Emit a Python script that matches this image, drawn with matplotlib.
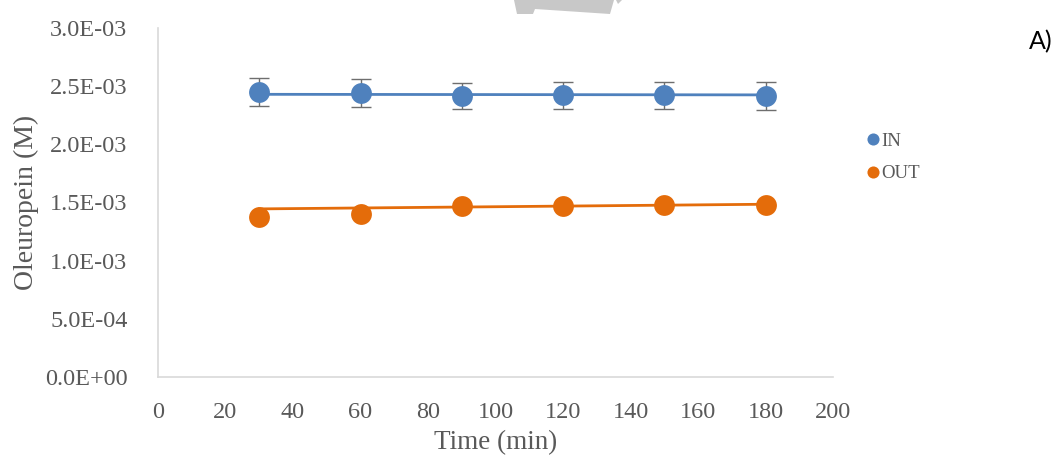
import numpy as np
import matplotlib.pyplot as plt
from matplotlib.patches import Polygon

plt.rcParams['font.family'] = ['Liberation Serif', 'DejaVu Serif']

# oleuropein concentration over time, inlet vs outlet
time = [30, 60, 90, 120, 150, 180]
c_in = [2.45e-3, 2.44e-3, 2.415e-3, 2.42e-3, 2.42e-3, 2.415e-3]
c_in_err = [1.2e-4, 1.2e-4, 1.15e-4, 1.2e-4, 1.15e-4, 1.2e-4]
c_out = [1.375e-3, 1.40e-3, 1.47e-3, 1.47e-3, 1.48e-3, 1.48e-3]

# linear trendlines (start/end values)
fit_time = [30, 180]
in_fit = [2.43e-3, 2.425e-3]
out_fit = [1.445e-3, 1.485e-3]

blue = '#4F81BD'
orange = '#E46C0A'
grey_txt = '#595959'

fig = plt.figure(figsize=(10.56, 4.59), dpi=100)
ax = fig.add_axes([158/1056, 1 - 377/459, (833 - 158)/1056, (377 - 28)/459])

ax.plot(fit_time, in_fit, color=blue, lw=2, zorder=2)
ax.plot(fit_time, out_fit, color=orange, lw=2, zorder=2)
ax.errorbar(time, c_in, yerr=c_in_err, fmt='none', ecolor='#6E6E6E',
            elinewidth=1, capsize=7, capthick=1, zorder=1)
ax.plot(time, c_in, 'o', color=blue, ms=15, mew=0, zorder=3, label='IN')
ax.plot(time, c_out, 'o', color=orange, ms=15, mew=0, zorder=3, label='OUT')

ax.set_xlim(0, 200)
ax.set_ylim(0, 3e-3)
ax.set_xticks(np.arange(0, 201, 20))
ax.set_yticks(np.arange(0, 3.01e-3, 5e-4))
ax.set_yticklabels(['0.0E+00', '5.0E-04', '1.0E-03', '1.5E-03',
                    '2.0E-03', '2.5E-03', '3.0E-03'])
ax.tick_params(length=0, labelsize=17.5, labelcolor=grey_txt)
ax.tick_params(axis='x', pad=18)
ax.tick_params(axis='y', pad=22)
for s in ['top', 'right']:
    ax.spines[s].set_visible(False)
for s in ['left', 'bottom']:
    ax.spines[s].set_color('#D9D9D9')
    ax.spines[s].set_linewidth(1.2)

ax.set_xlabel('Time (min)', fontsize=19.5, color=grey_txt, labelpad=5)
ax.set_ylabel('Oleuropein (M)', fontsize=20, color=grey_txt, labelpad=4)

leg = ax.legend(loc='upper left', bbox_to_anchor=(850/1056, 1 - 116/459),
                bbox_transform=fig.transFigure, frameon=False,
                markerscale=0.58, handlelength=0.6, handletextpad=0.15,
                labelspacing=0.8, prop={'size': 13.5})
for t in leg.get_texts():
    t.set_color(grey_txt)

fig.text(1041/1056, 1 - 42/459, 'A)', fontsize=18, family='Lato',
         ha='center', va='center', color='black')

# grey arrow tail at the top edge
px = lambda pts: [(x/1056, 1 - y/459) for x, y in pts]
fig.patches.append(Polygon(px([(514, 0), (517, 14), (533, 14), (535, 9),
                               (610, 14), (614, 0)]),
                           closed=True, color='#C8C8C8', lw=0,
                           transform=fig.transFigure))
fig.patches.append(Polygon(px([(616, 0), (622, 0), (618, 4)]),
                           closed=True, color='#C8C8C8', lw=0,
                           transform=fig.transFigure))

fig.savefig('out.png', dpi=100)
